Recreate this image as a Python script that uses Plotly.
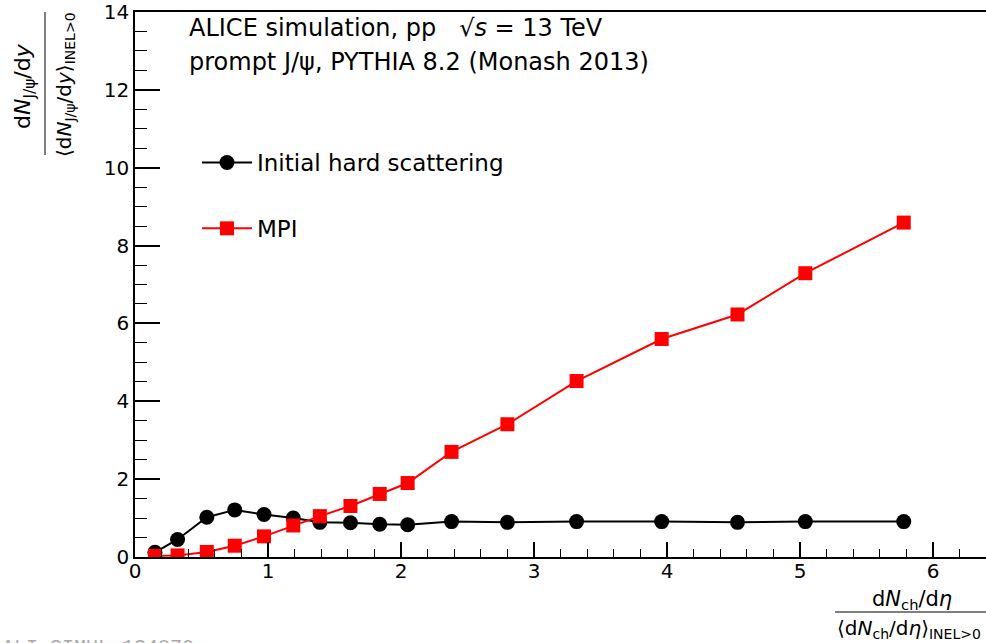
import plotly.graph_objects as go

# ---- data ----
x_mult = [0.15, 0.32, 0.54, 0.75, 0.97, 1.19, 1.39, 1.62, 1.84, 2.05,
          2.38, 2.80, 3.32, 3.96, 4.53, 5.04, 5.78]
y_hard = [0.12, 0.45, 1.02, 1.21, 1.09, 1.00, 0.89, 0.88, 0.84, 0.83,
          0.91, 0.89, 0.91, 0.91, 0.89, 0.91, 0.91]
y_mpi = [0.03, 0.04, 0.13, 0.29, 0.53, 0.81, 1.05, 1.31, 1.62, 1.90,
         2.70, 3.41, 4.52, 5.60, 6.23, 7.29, 8.59]
series_names = ["Initial hard scattering", "MPI"]
x_ticks = [0, 1, 2, 3, 4, 5, 6]
y_ticks = [0, 2, 4, 6, 8, 10, 12, 14]

W, H = 986, 643
ML, MR, MT, MB = 135, 0, 12, 86
PW, PH = W - ML - MR, H - MT - MB
FONT = "DejaVu Sans"


def px_x(p):
    return (p - ML) / PW


def px_y(p):
    return (H - MB - p) / PH


fig = go.Figure()
fig.add_trace(go.Scatter(
    x=x_mult, y=y_hard, name=series_names[0], mode="lines+markers",
    line=dict(color="black", width=2),
    marker=dict(symbol="circle", size=15, color="black"),
    legendgroup="a"))
fig.add_trace(go.Scatter(
    x=x_mult, y=y_mpi, name=series_names[1], mode="lines+markers",
    line=dict(color="#ff0000", width=2),
    marker=dict(symbol="square", size=14, color="#ff0000"),
    legendgroup="b"))

axis_common = dict(showline=True, linecolor="black", linewidth=1.5,
                   ticks="inside", tickcolor="black", tickwidth=1.5,
                   showgrid=False, zeroline=False,
                   tickfont=dict(family=FONT, size=20, color="black"))

fig.update_xaxes(range=[0, PW / 133.0], tickvals=x_ticks, ticklen=15,
                 mirror=True, ticklabelstandoff=-5,
                 minor=dict(dtick=0.2, ticks="inside", ticklen=8,
                            tickwidth=1.2, tickcolor="black", showgrid=False),
                 **axis_common)
fig.update_yaxes(range=[0, 14], tickvals=y_ticks, ticklen=25,
                 minor=dict(dtick=0.5, ticks="inside", ticklen=12,
                            tickwidth=1.2, tickcolor="black", showgrid=False),
                 **axis_common)

ann = []
# header text
ann.append(dict(x=px_x(187), y=px_y(28), xref="paper", yref="paper",
                text="ALICE simulation, pp   √<i>s</i> = 13 TeV",
                showarrow=False, xanchor="left", yanchor="middle",
                font=dict(family=FONT, size=24, color="black")))
ann.append(dict(x=px_x(187), y=px_y(62), xref="paper", yref="paper",
                text="prompt J/ψ, PYTHIA 8.2 (Monash 2013)",
                showarrow=False, xanchor="left", yanchor="middle",
                font=dict(family=FONT, size=24, color="black")))
# y title (fraction)
ann.append(dict(x=px_x(24), y=px_y(86), xref="paper", yref="paper",
                text="d<i>N</i><sub>J/ψ</sub>/d<i>y</i>", textangle=-90,
                showarrow=False, xanchor="center", yanchor="middle",
                font=dict(family=FONT, size=22, color="black")))
ann.append(dict(x=px_x(65), y=px_y(85), xref="paper", yref="paper",
                text="⟨d<i>N</i><sub>J/ψ</sub>/d<i>y</i>⟩<sub>INEL&gt;0</sub>",
                textangle=-90,
                showarrow=False, xanchor="center", yanchor="middle",
                font=dict(family=FONT, size=20, color="black")))
# x title (fraction)
ann.append(dict(x=px_x(912), y=px_y(600), xref="paper", yref="paper",
                text="d<i>N</i><sub>ch</sub>/d<i>η</i>",
                showarrow=False, xanchor="center", yanchor="middle",
                font=dict(family=FONT, size=21, color="black")))
ann.append(dict(x=px_x(835), y=px_y(629), xref="paper", yref="paper",
                text="⟨d<i>N</i><sub>ch</sub>/d<i>η</i>⟩<sub>INEL&gt;0</sub>",
                showarrow=False, xanchor="left", yanchor="middle",
                font=dict(family=FONT, size=20, color="black")))
# watermark, cut by page bottom
ann.append(dict(x=px_x(0), y=px_y(634), xref="paper", yref="paper",
                text="ALI-SIMUL-134870",
                showarrow=False, xanchor="left", yanchor="top",
                font=dict(family="Liberation Mono", size=20, color="#aaaaaa")))

shapes = [
    dict(type="line", xref="paper", yref="paper",
         x0=px_x(45), x1=px_x(45), y0=px_y(12), y1=px_y(155),
         line=dict(color="black", width=1)),
    dict(type="line", xref="paper", yref="paper",
         x0=px_x(835), x1=px_x(990), y0=px_y(612), y1=px_y(612),
         line=dict(color="black", width=1)),
]

fig.update_layout(
    width=W, height=H,
    margin=dict(l=ML, r=MR, t=MT, b=MB, pad=0),
    paper_bgcolor="white", plot_bgcolor="white",
    annotations=ann, shapes=shapes,
    showlegend=True,
    legend=dict(x=px_x(197), y=px_y(141), xanchor="left", yanchor="top",
                font=dict(family=FONT, size=23, color="black"),
                bgcolor="rgba(0,0,0,0)", borderwidth=0,
                tracegroupgap=33, itemwidth=50),
)

fig.write_html("out.html")
